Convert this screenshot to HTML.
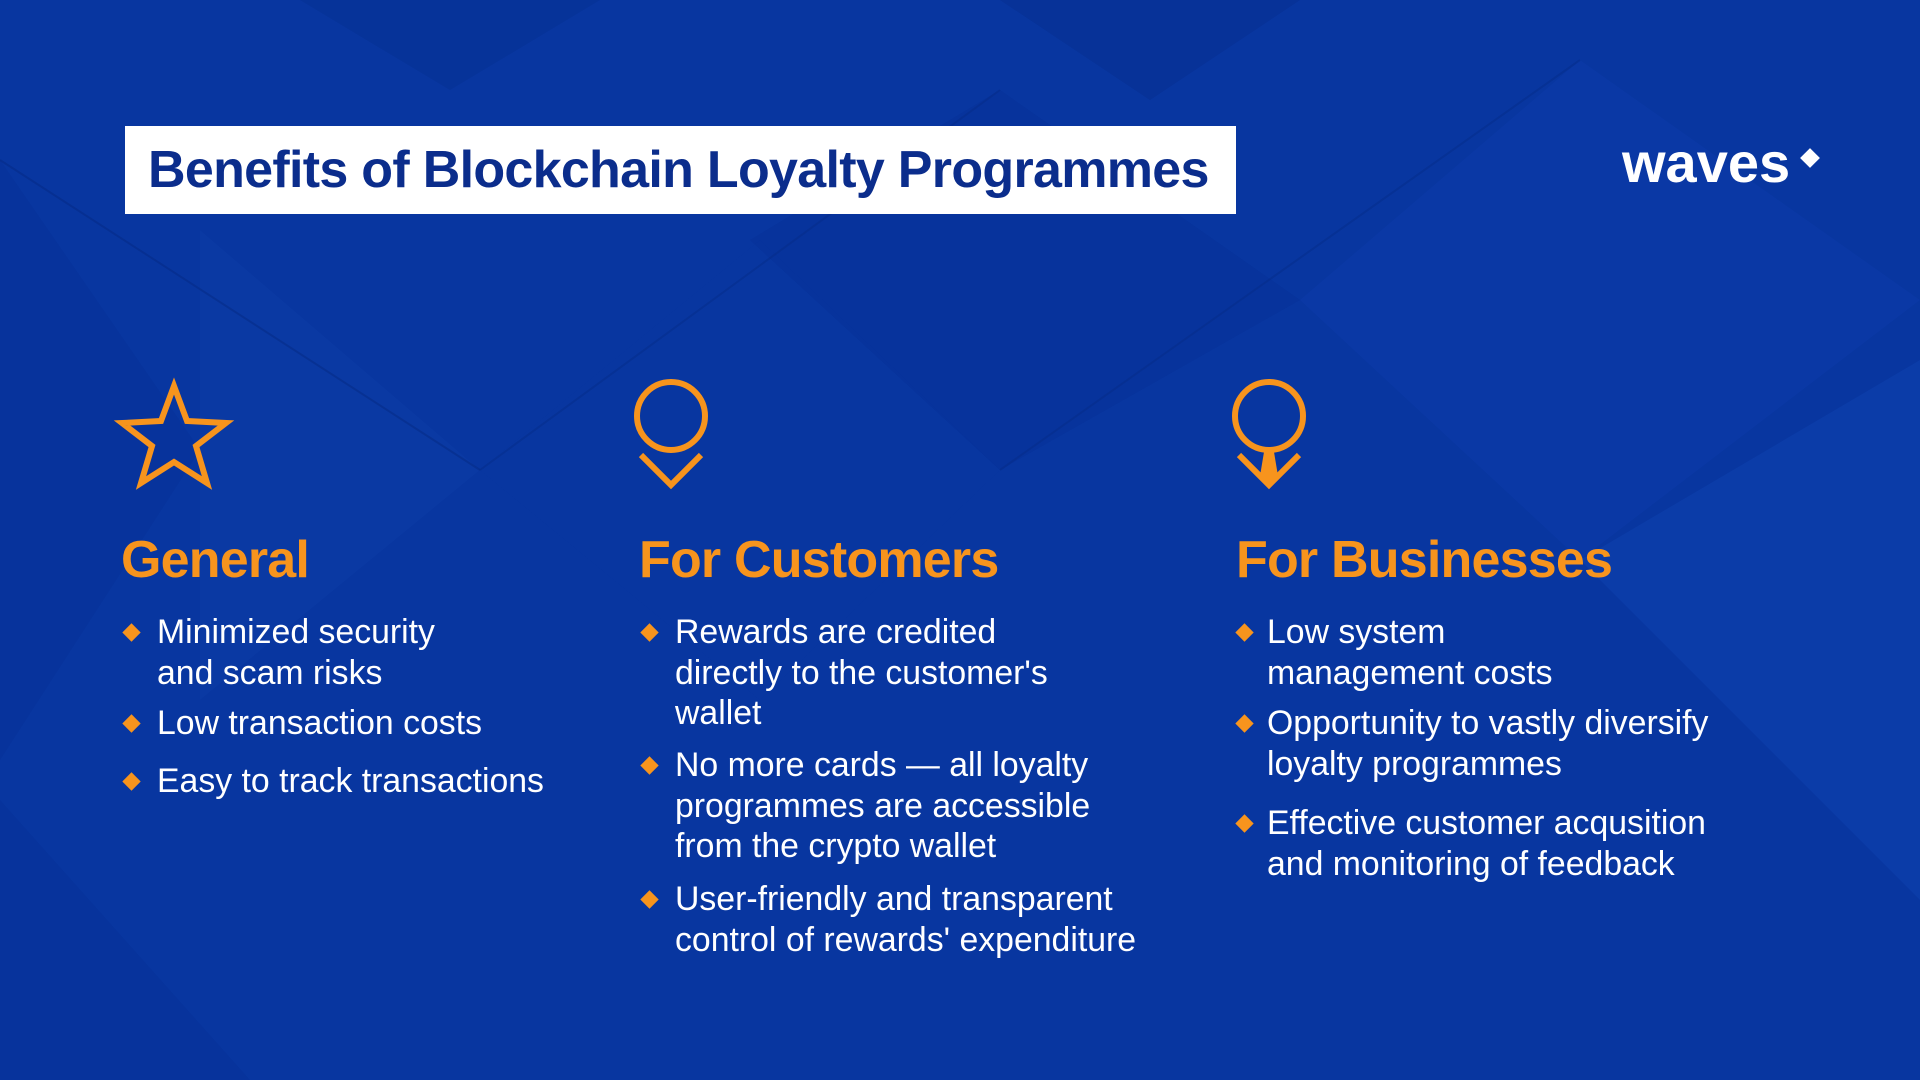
<!DOCTYPE html>
<html><head><meta charset="utf-8"><style>
html,body{margin:0;padding:0}
body{width:1920px;height:1080px;position:relative;overflow:hidden;background:#0836a0;font-family:"Liberation Sans",sans-serif}
.bg{position:absolute;left:0;top:0}
.title{position:absolute;left:125px;top:126px;width:1111px;height:88px;background:#fff}
.title span{position:absolute;left:23px;top:0;line-height:88px;font-size:52px;font-weight:bold;color:#0b2d8c;letter-spacing:-0.7px;white-space:nowrap}
.logo{position:absolute;left:1622px;top:128px;font-size:56px;font-weight:bold;color:#fff;line-height:70px}
.h{position:absolute;font-size:52px;font-weight:bold;color:#f7941d;letter-spacing:-0.8px;line-height:50px;white-space:nowrap}
.t{position:absolute;font-size:33.8px;color:#fff;line-height:40.5px;white-space:nowrap}
.d{position:absolute;width:13px;height:13px;background:#f7941d;transform:rotate(45deg)}
</style></head><body>
<svg class="bg" width="1920" height="1080">
<polygon points="0,160 200,450 0,760" fill="#06329a" opacity="0.6"/>
<polygon points="200,230 480,470 200,700" fill="#0b3ca6" opacity="0.5"/>
<polygon points="480,470 760,240 1000,470 760,700" fill="#0835a0" opacity="0.5"/>
<polygon points="750,240 1000,90 1300,300 1000,470" fill="#063098" opacity="0.5"/>
<polygon points="1300,300 1580,60 1920,300 1580,560" fill="#0b3ba8" opacity="0.6"/>
<polygon points="1580,560 1920,360 1920,900" fill="#0d41ae" opacity="0.6"/>
<polygon points="0,800 250,1080 0,1080" fill="#06329a" opacity="0.6"/>
<polygon points="1000,0 1300,0 1150,100" fill="#052e8f" opacity="0.5"/>
<polygon points="300,0 600,0 450,90" fill="#062f8f" opacity="0.4"/>
<line x1="0" y1="160" x2="480" y2="470" stroke="#052a85" stroke-width="2" opacity="0.5"/>
<line x1="480" y1="470" x2="1000" y2="90" stroke="#052a85" stroke-width="2" opacity="0.4"/>
<line x1="1000" y1="470" x2="1580" y2="60" stroke="#052a85" stroke-width="2" opacity="0.4"/>
<polygon points="174,386 187,421 226,423 196,446 207,483 174,462 141,483 152,446 122,423 161,421" fill="none" stroke="#f7941d" stroke-width="6"/>
<circle cx="671" cy="416" r="34" fill="none" stroke="#f7941d" stroke-width="6"/>
<polyline points="641,455 671,485 701,455" fill="none" stroke="#f7941d" stroke-width="6"/>
<circle cx="1269" cy="416" r="34" fill="none" stroke="#f7941d" stroke-width="6"/>
<polyline points="1239,455 1269,485 1299,455" fill="none" stroke="#f7941d" stroke-width="6"/>
<polygon points="1264,452 1274,452 1278,476 1269,485 1260,476" fill="#f7941d"/>
</svg>
<div class="title"><span>Benefits of Blockchain Loyalty Programmes</span></div>
<div class="logo">waves</div>
<div class="d" style="left:1803px;top:151px;width:14px;height:14px;background:#fff"></div>

<div class="h" style="left:121px;top:535px">General</div>
<div class="h" style="left:639px;top:535px">For Customers</div>
<div class="h" style="left:1236px;top:535px">For Businesses</div>

<div class="d" style="left:125px;top:626px"></div>
<div class="t" style="left:157px;top:612px">Minimized security<br>and scam risks</div>
<div class="d" style="left:125px;top:717px"></div>
<div class="t" style="left:157px;top:703px">Low transaction costs</div>
<div class="d" style="left:125px;top:775px"></div>
<div class="t" style="left:157px;top:761px">Easy to track transactions</div>

<div class="d" style="left:643px;top:626px"></div>
<div class="t" style="left:675px;top:612px">Rewards are credited<br>directly to the customer's<br>wallet</div>
<div class="d" style="left:643px;top:759px"></div>
<div class="t" style="left:675px;top:745px">No more cards — all loyalty<br>programmes are accessible<br>from the crypto wallet</div>
<div class="d" style="left:643px;top:893px"></div>
<div class="t" style="left:675px;top:879px">User-friendly and transparent<br>control of rewards' expenditure</div>

<div class="d" style="left:1238px;top:626px"></div>
<div class="t" style="left:1267px;top:612px">Low system<br>management costs</div>
<div class="d" style="left:1238px;top:717px"></div>
<div class="t" style="left:1267px;top:703px">Opportunity to vastly diversify<br>loyalty programmes</div>
<div class="d" style="left:1238px;top:817px"></div>
<div class="t" style="left:1267px;top:803px">Effective customer acqusition<br>and monitoring of feedback</div>
</body></html>
